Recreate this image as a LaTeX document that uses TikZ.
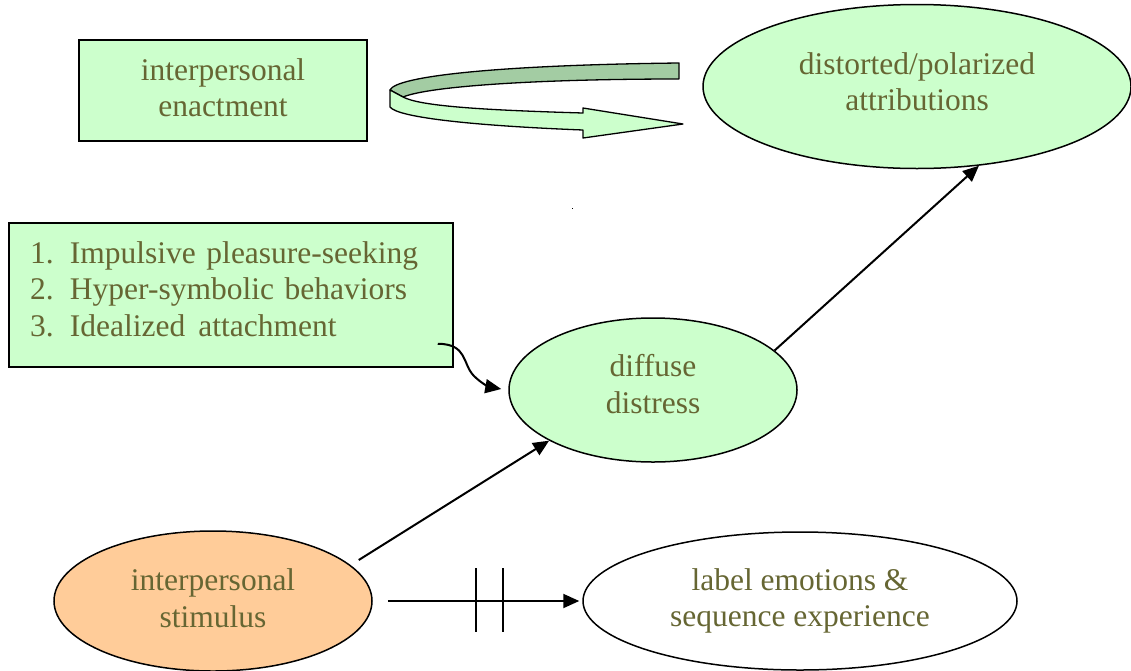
\documentclass[tikz,border=0pt]{standalone}
\usepackage{fontspec}
\setmainfont{Liberation Serif}
\usetikzlibrary{shapes.geometric,arrows.meta,calc}
\definecolor{txt}{RGB}{102,102,51}
\definecolor{mint}{RGB}{204,255,204}
\definecolor{mintdark}{RGB}{163,204,163}
\definecolor{peach}{RGB}{255,204,153}
% extra depth on the last line lifts a text block inside its shape
\newcommand{\lift}[1]{\rule[-#1]{0pt}{0pt}}
\tikzset{
  lbl/.style={text=txt, font=\fontsize{31.5}{36.5}\selectfont, align=center},
  gbox/.style={lbl, draw=black, line width=1.5pt, fill=mint, rectangle, inner sep=0pt},
  gell/.style={lbl, draw=black, line width=1.5pt, fill=mint, ellipse, inner sep=0pt},
  link/.style={draw=black, line width=2pt, -{Triangle[length=16pt,width=14pt]}},
  ribbon/.style={draw=black, line width=1.3pt, line join=round}
}
\begin{document}
\begin{tikzpicture}[x=1pt,y=1pt]
\useasboundingbox (0,0) rectangle (1131,-670);

% boxes and ellipses
\node[gbox, minimum width=288, minimum height=101] (enact) at (223,-90.5) {interpersonal\\enactment\lift{6pt}};
\node[gell, minimum width=428, minimum height=164] (dist) at (917,-86.5) {distorted/polarized\\attributions\lift{10pt}};
\node[gbox, minimum width=444, minimum height=144, text width=402, align=left, inner xsep=21pt] (list) at (231,-295)
  {\makebox[40pt][l]{1.}Impulsive pleasure-seeking\\
   \makebox[40pt][l]{2.}Hyper-symbolic behaviors\\
   \makebox[40pt][l]{3.}Idealized\hspace{13pt}attachment\lift{12pt}};
\node[gell, minimum width=288, minimum height=144] (diff) at (653,-390) {diffuse\\distress\lift{12pt}};
\node[gell, fill=peach, minimum width=318, minimum height=140] (stim) at (213,-601) {interpersonal\\stimulus\lift{6pt}};
\node[gell, fill=white, minimum width=434, minimum height=138] (label) at (800,-601) {label emotions \&\\sequence experience};

% curled ribbon arrow between the two top shapes
\path[ribbon, fill=mintdark] (679,-63) -- (679,-79)
  .. controls (540,-79) and (430,-86) .. (403,-97) -- (390,-90)
  .. controls (396,-76) and (500,-65) .. (679,-63) -- cycle;
\path[ribbon, fill=mint] (390,-90) -- (390,-107)
  .. controls (398,-118) and (480,-126) .. (583,-130) -- (583,-138) -- (683,-124)
  -- (583,-108) -- (583,-113)
  .. controls (480,-110) and (420,-106) .. (403,-97) -- cycle;

% connectors
\draw[link] ($(stim.east)+(-14,41)$) -- (diff.206);
\draw[link] (diff.18) -- (dist.308);
\draw[link, shorten <=15pt, shorten >=3pt] (stim.east) -- (label.west);
\coordinate (cutA) at (476,-601);
\coordinate (cutB) at (503,-601);
\draw[line width=1.8pt] ($(cutA)+(0,33)$) -- ($(cutA)+(0,-31)$);
\draw[line width=1.8pt] ($(cutB)+(0,33)$) -- ($(cutB)+(0,-31)$);
\coordinate (wfrom) at ($(list.south east)+(-16,24)$);
\coordinate (wend) at ($(diff.west)+(-7,1)$);
\draw[link] (wfrom) .. controls (468,-344) and (462,-364) .. (474,-376)
  .. controls (482,-384) and (490,-387) .. (wend);

% stray mark
\fill (571.5,-207.5) rectangle ++(1.2,-1.5);
\end{tikzpicture}
\end{document}
